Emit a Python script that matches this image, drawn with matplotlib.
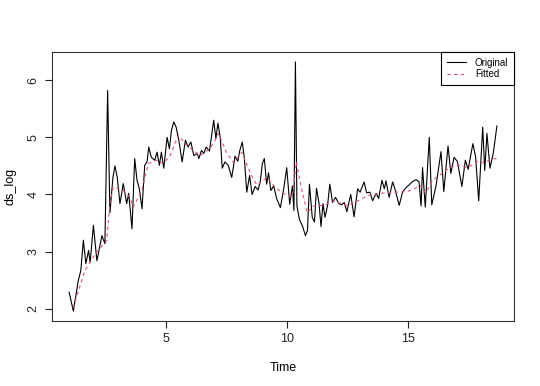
import numpy as np
import matplotlib
matplotlib.use("Agg")
import matplotlib.pyplot as plt
from matplotlib.lines import Line2D

plt.rcParams['font.family'] = ['Liberation Sans', 'DejaVu Sans']

# original series (time, value)
t_orig = [1.000, 1.174, 1.381, 1.484, 1.588, 1.692, 1.803, 1.870, 2.002, 2.147,
          2.271, 2.354, 2.478, 2.590, 2.685, 2.810, 2.892, 2.988, 3.099, 3.236,
          3.377, 3.460, 3.596, 3.708, 3.803, 3.899, 4.010, 4.122, 4.217, 4.288,
          4.395, 4.536, 4.631, 4.727, 4.810, 4.909, 4.975, 5.046, 5.141, 5.224,
          5.323, 5.418, 5.530, 5.667, 5.803, 5.915, 6.027, 6.151, 6.288, 6.358,
          6.466, 6.565, 6.660, 6.797, 6.971, 7.062, 7.145, 7.240, 7.323, 7.435,
          7.571, 7.716, 7.853, 7.965, 8.048, 8.151, 8.234, 8.337, 8.453, 8.557,
          8.681, 8.805, 8.896, 8.979, 9.062, 9.157, 9.236, 9.331, 9.447, 9.571,
          9.725, 9.870, 9.986, 10.110, 10.222, 10.284, 10.346, 10.408, 10.512, 10.636,
          10.760, 10.843, 10.926, 11.041, 11.133, 11.216, 11.319, 11.402, 11.484, 11.567,
          11.671, 11.766, 11.878, 12.002, 12.139, 12.251, 12.362, 12.470, 12.631, 12.768,
          12.913, 13.017, 13.182, 13.286, 13.422, 13.534, 13.679, 13.783, 13.919, 14.019,
          14.085, 14.217, 14.362, 14.466, 14.632, 14.776, 14.913, 15.046, 15.191, 15.336,
          15.451, 15.534, 15.596, 15.708, 15.874, 15.977, 16.151, 16.358, 16.474, 16.648,
          16.764, 16.897, 17.033, 17.220, 17.364, 17.480, 17.675, 17.787, 17.915, 18.081,
          18.164, 18.255, 18.379, 18.516, 18.667]
v_orig = [2.29, 1.96, 2.50, 2.67, 3.20, 2.79, 3.02, 2.81, 3.46, 2.84,
          3.10, 3.28, 3.14, 5.82, 3.68, 4.30, 4.50, 4.30, 3.84, 4.19,
          3.84, 4.02, 3.40, 4.63, 4.25, 4.10, 3.75, 4.51, 4.57, 4.83,
          4.65, 4.60, 4.74, 4.51, 4.74, 4.46, 4.72, 5.00, 4.80, 5.12,
          5.27, 5.18, 4.95, 4.57, 4.95, 4.83, 4.92, 4.68, 4.72, 4.63,
          4.77, 4.72, 4.83, 4.76, 5.30, 4.98, 5.25, 5.00, 4.46, 4.57,
          4.51, 4.30, 4.67, 4.58, 4.77, 4.92, 4.65, 4.04, 4.33, 4.00,
          4.14, 4.08, 4.23, 4.54, 4.63, 4.18, 4.38, 4.07, 4.15, 3.93,
          3.77, 4.12, 4.47, 3.83, 4.15, 3.72, 6.32, 3.80, 3.56, 3.45,
          3.28, 3.37, 4.18, 3.60, 3.52, 4.11, 3.85, 3.44, 3.84, 3.60,
          3.80, 4.18, 3.86, 3.95, 3.84, 3.82, 3.86, 3.70, 4.00, 3.61,
          4.10, 4.04, 4.22, 4.03, 4.04, 3.89, 4.02, 3.93, 4.25, 4.10,
          4.24, 3.95, 4.22, 4.08, 3.81, 4.05, 4.12, 4.17, 4.23, 4.26,
          4.22, 3.80, 4.47, 3.78, 5.00, 3.82, 4.15, 4.75, 4.05, 4.85,
          4.37, 4.65, 4.58, 4.14, 4.60, 4.44, 4.89, 4.66, 3.89, 5.18,
          4.42, 5.07, 4.46, 4.72, 5.20]

# fitted series
t_fit = [1.166, 1.650, 2.135, 2.549, 2.685, 2.822, 3.236, 3.513, 3.650, 3.998,
         4.271, 4.619, 4.892, 5.170, 5.513, 5.861, 6.135, 6.412, 6.826, 7.104,
         7.170, 7.518, 7.791, 8.139, 8.482, 8.760, 9.174, 9.518, 9.861, 10.209,
         10.387, 10.553, 10.830, 11.091, 11.518, 11.932, 12.487, 12.901, 13.315, 13.866,
         14.416, 14.971, 15.522, 15.729, 16.006, 16.350, 16.640, 17.041, 17.455, 17.870,
         18.151, 18.420, 18.667]
v_fit = [2.02, 2.67, 2.99, 3.19, 3.84, 4.13, 4.07, 3.95, 3.78, 4.07,
         4.54, 4.60, 4.54, 4.68, 5.04, 4.86, 4.77, 4.68, 4.81, 5.00,
         5.07, 4.72, 4.56, 4.74, 4.37, 4.16, 4.30, 4.12, 4.02, 3.95,
         4.57, 4.19, 3.68, 3.80, 3.81, 3.89, 3.80, 3.88, 3.98, 4.02,
         4.04, 4.05, 4.15, 4.02, 4.25, 4.35, 4.45, 4.52, 4.47, 4.58,
         4.55, 4.62, 4.63]

x_ticks = [5, 10, 15]
y_ticks = [2, 3, 4, 5, 6]

fig = plt.figure(figsize=(5.4, 3.86), dpi=100)
ax = fig.add_axes([0.0963, 0.1684, 0.8556, 0.6969])

ax.plot(t_orig, v_orig, color='black', lw=0.8)
ax.plot(t_fit, v_fit, color='#DF536B', lw=0.8, linestyle=(0, (3, 3)))

ax.set_xlim(0.293, 19.374)
ax.set_ylim(1.786, 6.494)
ax.set_xticks(x_ticks)
ax.set_yticks(y_ticks)
ax.set_yticklabels([str(v) for v in y_ticks], rotation=90, va='center')
ax.tick_params(direction='out', length=5, width=0.8, labelsize=9, pad=4, colors='#222222')
for s in ax.spines.values():
    s.set_linewidth(0.8)
    s.set_color('#333333')

ax.set_xlabel('Time', fontsize=9, labelpad=12)
ax.set_ylabel('ds_log', fontsize=9, labelpad=8)

handles = [Line2D([], [], color='black', lw=0.8),
           Line2D([], [], color='#DF536B', lw=0.8, linestyle=(0, (3, 3)))]
leg = ax.legend(handles, ['Original', 'Fitted'], loc='upper right', fontsize=7,
                frameon=True, fancybox=False, edgecolor='black', framealpha=1,
                borderaxespad=0, handlelength=2.0, handletextpad=0.9,
                borderpad=0.6, labelspacing=0.15)
leg.get_frame().set_linewidth(0.8)

fig.savefig('out.png', dpi=100)
